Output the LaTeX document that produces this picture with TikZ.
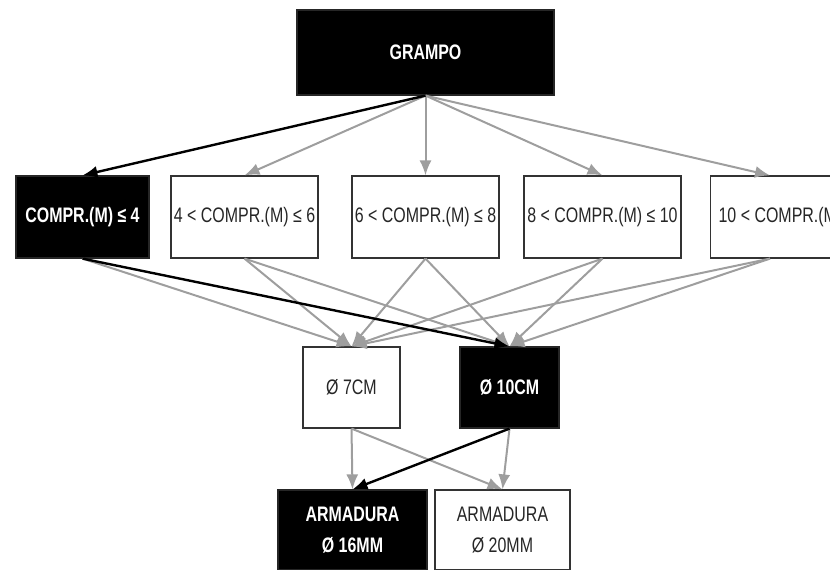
\documentclass[tikz,border=0pt]{standalone}
\usepackage{fontspec}
\setmainfont{Liberation Sans}[FakeStretch=0.76]
\usetikzlibrary{arrows.meta,calc}
\tikzset{
  blkbox/.style={shape=rectangle,fill=black,draw=black!85,line width=1.2pt,text=white,align=center,inner sep=0pt,font=\bfseries\fontsize{21}{31}\selectfont},
  whtbox/.style={shape=rectangle,fill=white,draw=black!80,line width=1.2pt,text=black!85,align=center,inner sep=0pt,font=\fontsize{21}{31}\selectfont},
  grayarr/.style={-{Latex[length=15pt,width=12pt]},draw=black!38,line width=2pt},
  blackarr/.style={-{Latex[length=15pt,width=12pt]},draw=black,line width=2.4pt}
}
\begin{document}
\begin{tikzpicture}[x=1pt,y=-1pt]
\clip (0,0) rectangle (830,570);
\node[blkbox,minimum width=257pt,minimum height=85pt] (0) at (425.5,52.5) {GRAMPO};
\node[blkbox,minimum width=133pt,minimum height=82pt] (1) at (82.5,217) {COMPR.(M) ≤ 4};
\node[whtbox,minimum width=147pt,minimum height=82pt] (2) at (244.5,217) {4 < COMPR.(M) ≤ 6};
\node[whtbox,minimum width=147pt,minimum height=82pt] (3) at (425.5,217) {6 < COMPR.(M) ≤ 8};
\node[whtbox,minimum width=157pt,minimum height=82pt] (4) at (602.5,217) {8 < COMPR.(M) ≤ 10};
\node[whtbox,minimum height=82pt,inner xsep=8pt,anchor=west] (5) at (710,217) {10 < COMPR.(M)};
\node[whtbox,minimum width=97pt,minimum height=81pt] (6) at (351.5,387.5) {Ø 7CM};
\node[blkbox,minimum width=99pt,minimum height=81pt] (7) at (509.5,387.5) {Ø 10CM};
\node[blkbox,minimum width=149pt,minimum height=80pt] (8) at (352.5,530) {ARMADURA\\Ø 16MM};
\node[whtbox,minimum width=135pt,minimum height=80pt] (9) at (502.5,530) {ARMADURA\\Ø 20MM};

\draw [grayarr] (0.south) -- (2.north);
\draw [grayarr] (0.south) -- (3.north);
\draw [grayarr] (0.south) -- (4.north);
\draw [grayarr] (0.south) -- ($(5.north west)+(60,0)$);
\draw [grayarr] (1.south) -- (6.north);
\draw [grayarr] (2.south) -- (6.north);
\draw [grayarr] (2.south) -- (7.north);
\draw [grayarr] (3.south) -- (6.north);
\draw [grayarr] (3.south) -- (7.north);
\draw [grayarr] (4.south) -- (6.north);
\draw [grayarr] (4.south) -- (7.north);
\draw [grayarr] ($(5.south west)+(60,0)$) -- (6.north);
\draw [grayarr] ($(5.south west)+(60,0)$) -- (7.north);
\draw [grayarr] (6.south) -- (8.north);
\draw [grayarr] (6.south) -- (9.north);
\draw [grayarr] (7.south) -- (9.north);
\draw [blackarr] (0.south) -- (1.north);
\draw [blackarr] (1.south) -- (7.north);
\draw [blackarr] (7.south) -- (8.north);
\end{tikzpicture}
\end{document}
